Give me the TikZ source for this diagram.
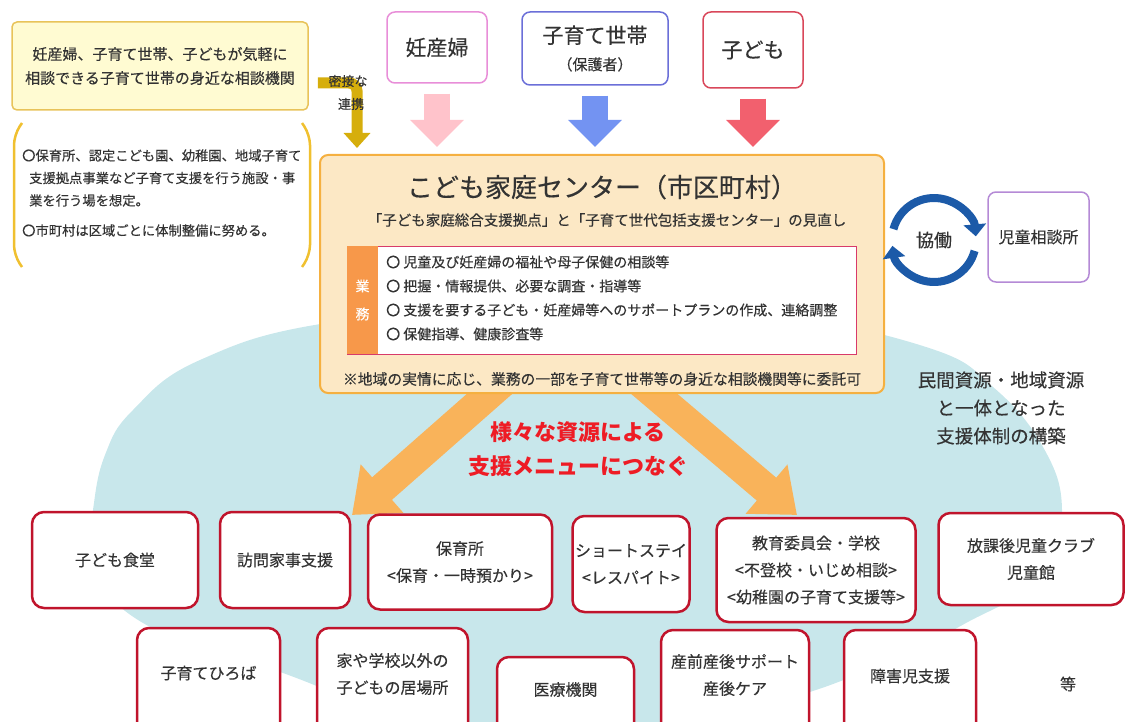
\documentclass[tikz,border=0pt]{standalone}
\usepackage{fontspec}
\setmainfont{Noto Sans CJK JP}[UprightFeatures={FakeBold=0.3}]
\usetikzlibrary{arrows.meta,positioning}

\definecolor{sea}{HTML}{C8E7EB}
\definecolor{ink}{HTML}{333333}
\definecolor{notefill}{HTML}{FFFBD2}
\definecolor{noteline}{HTML}{E8C35A}
\definecolor{gold}{HTML}{F0C030}
\definecolor{mustard}{HTML}{D6AE0C}
\definecolor{pinkline}{HTML}{E88ED8}
\definecolor{blueline}{HTML}{6B6FD8}
\definecolor{redline}{HTML}{D9475A}
\definecolor{pinkarr}{HTML}{FFC3CB}
\definecolor{bluearr}{HTML}{7393F2}
\definecolor{redarr}{HTML}{F2606E}
\definecolor{hubfill}{HTML}{FCE8C5}
\definecolor{hubline}{HTML}{F5B040}
\definecolor{workline}{HTML}{D83A6A}
\definecolor{taborange}{HTML}{F7984A}
\definecolor{orangearr}{HTML}{F9B35A}
\definecolor{ringblue}{HTML}{1C5AA8}
\definecolor{purpleline}{HTML}{B58AD6}
\definecolor{menured}{HTML}{C0142C}
\definecolor{callred}{HTML}{EE1C25}

\newcommand\jfs[2]{\fontsize{#1}{#2}\selectfont}

\begin{document}
\begin{tikzpicture}[
    x=1pt, y=-1pt,
    font=\jfs{16}{27},
    text=ink,
    >=Stealth,
    whobox/.style={draw, fill=white, rounded corners=8pt, line width=1.5pt, align=center, inner sep=0pt},
    menubox/.style={draw=menured, fill=white, rounded corners=12pt, line width=2.5pt, align=center, inner sep=0pt},
    blockdown/.style={line width=26pt, -{Triangle[length=27pt,width=52pt]}},
    bigarrow/.style={draw=orangearr, line width=30pt, -{Triangle[length=40pt,width=62pt]}},
    ringarrow/.style={draw=ringblue, line width=8pt, -{Triangle[length=12pt,width=22pt]}}
]
    \clip (0,0) rectangle (1126,722);

    % resource area
    \fill[sea] plot[smooth cycle, tension=0.7] coordinates {
        (576,302) (760,312) (926,347) (993,387) (1043,447) (1062,510)
        (1045,575) (966,623) (906,652) (800,695) (650,728) (480,728)
        (370,705) (283,673) (143,623) (90,560) (93,510) (105,455)
        (133,410) (200,360) (333,322)};

    % local consultation
    \node[draw=noteline, fill=notefill, line width=1.5pt, rounded corners=5pt, minimum width=296pt, minimum height=88pt, align=center, font=\jfs{15}{24}] (local) at (160,66) {妊産婦、子育て世帯、子どもが気軽に\\相談できる子育て世帯の身近な相談機関};
    \draw[gold, line width=2.5pt, rounded corners=10pt] (22,123) -- (14,135) -- (14,255) -- (22,267);
    \draw[gold, line width=2.5pt, rounded corners=10pt] (302,123) -- (310,135) -- (310,255) -- (302,267);
    \node[anchor=west, align=left, font=\jfs{13.3}{22.5}, inner sep=0pt] (scope) at (22,193) {〇保育所、認定こども園、幼稚園、地域子育て\\\hspace{7pt}支援拠点事業など子育て支援を行う施設・事\\\hspace{7pt}業を行う場を想定。\\[7.5pt]〇市町村は区域ごとに体制整備に努める。};

    \coordinate (linkend) at (357,148);
    \draw[mustard, line width=11pt, rounded corners=8pt, -{Triangle[length=15pt,width=26pt]}] ([shift={(9,17)}]local.east) -| (linkend);
    \node[font=\jfs{13}{15}] (link1) at (348,81) {密接な};
    \node[font=\jfs{13}{15}] (link2) at (351,104) {連携};

    % who comes
    \node[whobox, draw=pinkline, minimum width=100pt, minimum height=71pt, font=\jfs{21}{25}] (ninpu) at (437,47.5) {妊産婦};
    \node[whobox, draw=blueline, minimum width=146pt, minimum height=73pt] (kosodate) at (595,48.5) {\jfs{21}{30}子育て世帯\\\jfs{15}{30}（保護者）};
    \node[whobox, draw=redline, minimum width=100pt, minimum height=76pt, font=\jfs{21}{25}] (kodomo) at (753,50) {子ども};

    % arrows to the menus
    \draw[bigarrow] (511,375) -- (352,515);
    \draw[bigarrow] (632,375) -- (797,515);

    % center
    \node[draw=hubline, fill=hubfill, line width=2pt, rounded corners=8pt, minimum width=564pt, minimum height=238pt] (hub) at (602,274) {};
    \draw[blockdown, draw=pinkarr] ([yshift=-10]ninpu.south) -- ([yshift=7]ninpu.south |- hub.north);
    \draw[blockdown, draw=bluearr] ([yshift=-10]kosodate.south) -- ([yshift=7]kosodate.south |- hub.north);
    \draw[blockdown, draw=redarr] ([yshift=-10]kodomo.south) -- ([yshift=7]kodomo.south |- hub.north);

    \node[font=\jfs{26}{30}] (title) at (602,187) {こども家庭センター（市区町村）};
    \node[font=\jfs{14.5}{17}] (review) at (607,220) {「子ども家庭総合支援拠点」と「子育て世代包括支援センター」の見直し};
    \node[draw=workline, fill=white, line width=1pt, minimum width=509pt, minimum height=108pt, inner sep=0pt] (work) at (601.5,300) {};
    \node[fill=taborange, minimum width=31pt, minimum height=108pt, inner sep=0pt, align=center, text=white, font=\jfs{14}{28}] (tab) at (362.5,300) {業\\務};
    \node[anchor=west, align=left, font=\jfs{14}{24}, inner sep=0pt] (duties) at (386,298) {〇 児童及び妊産婦の福祉や母子保健の相談等\\〇 把握・情報提供、必要な調査・指導等\\〇 支援を要する子ども・妊産婦等へのサポートプランの作成、連絡調整\\〇 保健指導、健康診査等};
    \node[font=\jfs{14.8}{17}] (entrust) at (602,379) {※地域の実情に応じ、業務の一部を子育て世帯等の身近な相談機関等に委託可};

    % cooperation
    \node[font=\jfs{18}{20}] (kyo) at (934,240) {協働};
    \draw[ringarrow] ([shift={(-165:42)}]kyo.center) arc[start angle=-165, end angle=-5, radius=42];
    \draw[ringarrow] ([shift={(15:42)}]kyo.center) arc[start angle=15, end angle=172, radius=42];
    \node[whobox, draw=purpleline, minimum width=101pt, minimum height=90pt] (jisou) at (1038.5,237) {児童相談所};

    \node[align=center, font=\jfs{18.5}{28}] (build) at (1001,408) {民間資源・地域資源\\と一体となった\\支援体制の構築};
    \node[align=center, font=\bfseries\jfs{22}{34}, text=callred] (connect) at (578,449) {様々な資源による\\支援メニューにつなぐ};

    % support menus
    \node[menubox, minimum width=166pt, minimum height=96pt] (shokudo) at (115,560) {子ども食堂};
    \node[menubox, minimum width=130pt, minimum height=96pt] (houmon) at (285,560) {訪問家事支援};
    \node[menubox, minimum width=184pt, minimum height=95pt] (hoiku) at (460,562) {保育所\\<保育・一時預かり>};
    \node[menubox, minimum width=117pt, minimum height=96pt] (short) at (631,564) {ショートステイ\\<レスパイト>};
    \node[menubox, minimum width=199pt, minimum height=104pt] (kyoiku) at (816,570) {教育委員会・学校\\<不登校・いじめ相談>\\<幼稚園の子育て支援等>};
    \node[menubox, minimum width=185pt, minimum height=92pt] (houkago) at (1031,559) {放課後児童クラブ\\児童館};

    \node[menubox, minimum width=143pt, minimum height=132pt] (hiroba) at (208.5,694) {};
    \node[menubox, minimum width=151pt, minimum height=132pt] (ibasho) at (392.5,694) {};
    \node[menubox, minimum width=137pt, minimum height=103pt] (iryo) at (565.5,708.5) {};
    \node[menubox, minimum width=148pt, minimum height=130pt] (sanzen) at (735,695) {};
    \node[menubox, minimum width=132pt, minimum height=130pt] (shogai) at (910,695) {};
    \node (hirobaText) at ([yshift=21]hiroba.center) {子育てひろば};
    \node[align=center] (ibashoText) at ([yshift=20]ibasho.center) {家や学校以外の\\子どもの居場所};
    \node (iryoText) at ([yshift=19]iryo.center) {医療機関};
    \node[align=center] (sanzenText) at ([yshift=20]sanzen.center) {産前産後サポート\\産後ケア};
    \node (shogaiText) at ([yshift=19]shogai.center) {障害児支援};
    \node (etc) at (1068,684) {等};
\end{tikzpicture}
\end{document}
